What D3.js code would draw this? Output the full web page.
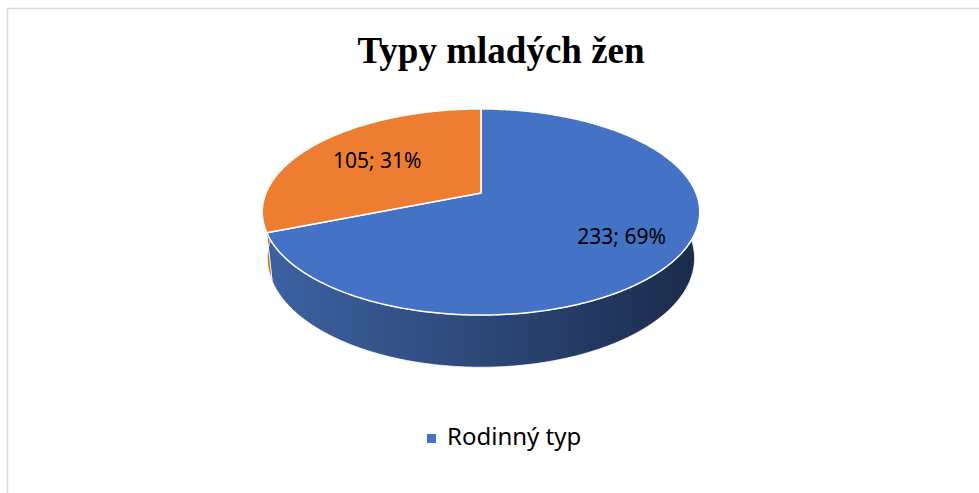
<!DOCTYPE html>
<html>
<head>
<meta charset="utf-8">
<script src="https://cdn.jsdelivr.net/npm/d3@7"></script>
<style>
  body { margin: 0; background: #fff; }
  svg { display: block; }
</style>
</head>
<body>
<svg id="chart"></svg>
<script>
// data
const title = "Typy mladých žen";
const categories = ["Rodinný typ", ""];
const values = [233, 105];
const colors = ["#4472C4", "#ED7D31"];
const sideColors = [["#3d62a3", "#2c4878", "#1b2a4b"], ["#c0631f", "#a8561c", "#8a4616"]];

const w = 979, h = 493;
const svg = d3.select("#chart").attr("width", w).attr("height", h);

// frame
svg.append("rect")
    .attr("x", 7.5).attr("y", 8.5)
    .attr("width", w + 10).attr("height", h + 10)
    .attr("fill", "none")
    .attr("stroke", "#d9d9d9")
    .attr("stroke-width", 1.5);

// title
svg.append("text")
    .attr("x", 501)
    .attr("y", 63)
    .attr("text-anchor", "middle")
    .attr("font-family", "'Liberation Serif', 'Times New Roman', serif")
    .attr("font-weight", "bold")
    .attr("font-size", "37px")
    .attr("fill", "#000")
    .text(title);

// 3D pie with a little perspective
const cx = 481, cy = 193;      // centre of top face on screen
const S = 215;                  // half width at mid depth
const r = 0.208;                // radius / camera distance
const sinA = 0.463, cosA = Math.sqrt(1 - sinA * sinA);
const depth = 0.245;            // thickness, in radii

function proj(theta, t, level) {
    const x = Math.sin(theta) * t;
    const z = -Math.cos(theta) * t;
    const y = level ? -depth : 0;
    const yc = y * cosA - z * sinA;
    const dist = 1 / r - z * cosA - y * sinA;
    return [cx + (S / r) * x / dist, cy - (S / r) * yc / dist];
}

function arcPoints(a0, a1, level) {
    const n = Math.max(2, Math.ceil(Math.abs(a1 - a0) / 0.01));
    return d3.range(n + 1).map(i => proj(a0 + (a1 - a0) * i / n, 1, level));
}

const total = d3.sum(values);
const arcs = d3.pie().sort(null).value(d => d)(values);
const line = d3.line();

const defs = svg.append("defs");
const leftX = proj(Math.PI * 1.5, 1, 0)[0] - 5, rightX = proj(Math.PI * 0.5, 1, 0)[0] + 5;
sideColors.forEach((c, i) => {
    const g = defs.append("linearGradient")
        .attr("id", "side" + i)
        .attr("gradientUnits", "userSpaceOnUse")
        .attr("x1", leftX).attr("x2", rightX)
        .attr("y1", 0).attr("y2", 0);
    g.append("stop").attr("offset", "0").attr("stop-color", c[0]);
    g.append("stop").attr("offset", "0.5").attr("stop-color", c[1]);
    g.append("stop").attr("offset", "1").attr("stop-color", c[2]);
});

// outer walls (front half only)
arcs.forEach((d, i) => {
    const a0 = Math.max(d.startAngle, Math.PI / 2);
    const a1 = Math.min(d.endAngle, Math.PI * 1.5);
    if (a1 <= a0) return;
    const pts = arcPoints(a0, a1, 0).concat(arcPoints(a1, a0, 1));
    svg.append("path")
        .attr("d", line(pts) + "Z")
        .attr("fill", "url(#side" + i + ")")
        .attr("stroke", "#fff")
        .attr("stroke-width", 0.8)
        .attr("stroke-linejoin", "round");
});

// top faces
arcs.forEach((d, i) => {
    const pts = [proj(0, 0, 0)].concat(arcPoints(d.startAngle, d.endAngle, 0));
    svg.append("path")
        .attr("d", line(pts) + "Z")
        .attr("fill", colors[i])
        .attr("stroke", "#fff")
        .attr("stroke-width", 1.5)
        .attr("stroke-linejoin", "round");
});

// data labels
const labelT = [0.73, 0.62];
arcs.forEach((d, i) => {
    const mid = (d.startAngle + d.endAngle) / 2;
    const p = proj(mid, labelT[i], 0);
    svg.append("text")
        .attr("x", p[0])
        .attr("y", p[1])
        .attr("dy", "0.35em")
        .attr("text-anchor", "middle")
        .attr("font-family", "'Noto Sans', sans-serif")
        .attr("font-size", "21px")
        .attr("fill", "#000")
        .text(values[i] + "; " + Math.round(values[i] / total * 100) + "%");
});

// legend
const legend = categories.map((c, i) => ({ name: c, color: colors[i] })).filter(d => d.name);
const lg = svg.append("g").attr("transform", "translate(427,434)");
legend.forEach((d, i) => {
    lg.append("rect")
        .attr("x", 0).attr("y", 0)
        .attr("width", 9).attr("height", 9)
        .attr("fill", d.color);
    lg.append("text")
        .attr("x", 20)
        .attr("y", 11)
        .attr("font-family", "'Noto Sans', sans-serif")
        .attr("font-size", "24px")
        .attr("fill", "#000")
        .text(d.name);
});
</script>
</body>
</html>
